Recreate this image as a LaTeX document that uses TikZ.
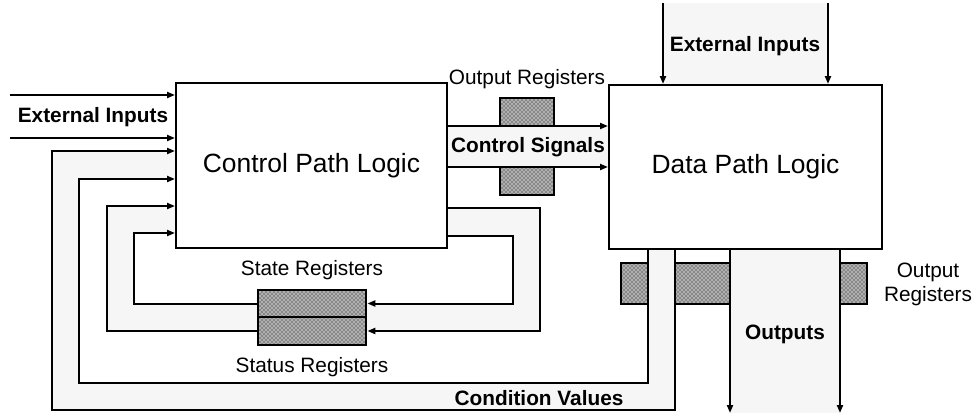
\documentclass[tikz,border=0pt]{standalone}
\usepackage{fontspec}
\setmainfont{Liberation Sans}
\usetikzlibrary{arrows.meta,patterns}
\begin{document}
\begin{tikzpicture}[x=0.75pt,y=-0.75pt,
  wire/.style={line width=1.5pt},
  arr/.style={wire,-{Triangle[length=6pt,width=4.5pt]}},
  band/.style={fill=gray!7},
  reg/.style={draw,line width=2pt,fill=gray!62,
    postaction={pattern=crosshatch dots,pattern color=black},inner sep=0pt},
  logic/.style={draw,fill=white,line width=1.5pt,inner sep=0pt,
    font=\fontsize{19.8}{24}\selectfont},
  lbl/.style={font=\fontsize{15.6}{18}\selectfont,inner sep=0pt},
  blbl/.style={font=\fontsize{15.6}{18}\selectfont\bfseries,inner sep=0pt}]
\useasboundingbox (0,0) rectangle (976,418);

% registers crossed by buses (drawn first, buses cover them)
\node[reg,minimum width=40.5pt,minimum height=72.75pt] (oreg) at (527,146.5) {};
\node[reg,minimum width=184.5pt,minimum height=30.75pt] (breg) at (744,283.5) {};

% light bus bands
\fill[band] (176,151) -- (52,151) -- (52,410) -- (675,410) -- (675,249)
  -- (648,249) -- (648,383) -- (79,383) -- (79,179) -- (176,179) -- cycle;
\fill[band] (176,206) -- (107,206) -- (107,331) -- (540,331) -- (540,208)
  -- (447,208) -- (447,236) -- (513,236) -- (513,303.5) -- (134,303.5)
  -- (134,233) -- (176,233) -- cycle;
\fill[band] (447,126) rectangle (609,167);
\fill[band] (663,3) rectangle (828,85);
\fill[band] (730,249) rectangle (840,413);

% logic blocks
\node[logic,minimum width=203.25pt,minimum height=123.75pt] (cpl) at (311.5,165.5) {Control Path Logic};
\node[logic,minimum width=204.75pt,minimum height=123pt] (dpl) at (745.5,167) {Data Path Logic};

% state and status registers
\node[reg,minimum width=81pt,minimum height=20.25pt] (state) at (312,303.5) {};
\node[reg,minimum width=81pt,minimum height=21pt] (status) at (312,331) {};

% bend points
\coordinate (e1) at (10,95);
\coordinate (e2) at (10,138);
\coordinate (c1) at (675,410);
\coordinate (c2) at (52,151);
\coordinate (c3) at (648,383);
\coordinate (c4) at (79,179);
\coordinate (sA) at (540,208);
\coordinate (sB) at (107,206);
\coordinate (tA) at (513,236);
\coordinate (tB) at (134,233);
\coordinate (k1) at (0,126);
\coordinate (k2) at (0,167);
\coordinate (t1) at (663,3);
\coordinate (t2) at (828,3);
\coordinate (o1) at (730,413);
\coordinate (o2) at (840,413);

% external inputs
\draw[arr] (e1) -- (e1 -| cpl.west);
\draw[arr] (e2) -- (e2 -| cpl.west);
\draw[arr] (t1) -- (t1 |- dpl.north);
\draw[arr] (t2) -- (t2 |- dpl.north);

% condition values
\draw[arr] (dpl.south -| c1) -- (c1) -| (c2) -- (c2 -| cpl.west);
\draw[arr] (dpl.south -| c3) -- (c3) -| (c4) -- (c4 -| cpl.west);

% status loop
\draw[arr] (cpl.east |- sA) -- (sA) |- (status.east);
\draw[arr] (status.west) -| (sB) -- (sB -| cpl.west);

% state loop
\draw[arr] (cpl.east |- tA) -- (tA) |- (state.east);
\draw[arr] (state.west) -| (tB) -- (tB -| cpl.west);

% control signals
\draw[arr] (cpl.east |- k1) -- (dpl.west |- k1);
\draw[arr] (cpl.east |- k2) -- (dpl.west |- k2);

% outputs
\draw[arr] (o1 |- dpl.south) -- (o1);
\draw[arr] (o2 |- dpl.south) -- (o2);

% labels
\node[blbl] (lei) at (93,117) {External Inputs};
\node[blbl] (tei) at (745,46) {External Inputs};
\node[lbl] (lor) at (527,79) {Output Registers};
\node[blbl] (lcs) at (528,147) {Control Signals};
\node[lbl] (lst) at (312,270) {State Registers};
\node[lbl] (lss) at (312,367) {Status Registers};
\node[blbl] (lcv) at (539,398) {Condition Values};
\node[blbl] (lout) at (785,334) {Outputs};
\node[lbl,align=center] (lbr) at (928,284) {Output\\Registers};
\end{tikzpicture}
\end{document}
